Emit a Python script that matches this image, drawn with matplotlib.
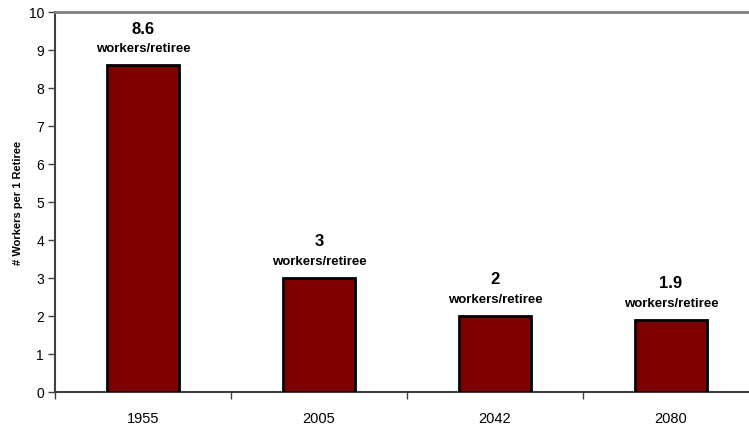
import numpy as np
import matplotlib.pyplot as plt

years = ["1955", "2005", "2042", "2080"]
ratio = [8.6, 3, 2, 1.9]
labels = ["8.6", "3", "2", "1.9"]

plt.rcParams['font.family'] = ['Liberation Sans', 'DejaVu Sans']

fig = plt.figure(figsize=(7.49, 4.27), dpi=100)
ax = fig.add_axes([55/749, 34/427, 704/749, 380/427])

x = np.arange(len(years))
ax.bar(x, ratio, width=0.405, color="#800000", edgecolor="black", linewidth=2, zorder=3)

for xi, v, lab in zip(x, ratio, labels):
    ax.annotate(lab, (xi, v), xytext=(0, 37), textcoords="offset pixels",
                ha="center", va="center", fontsize=12, fontweight="bold")
    ax.annotate("workers/retiree", (xi, v), xytext=(0, 17), textcoords="offset pixels",
                ha="center", va="center", fontsize=9.5, fontweight="bold")

ax.set_xlim(-0.5, 3.5)
ax.set_ylim(0, 10)
ax.set_yticks(range(11))
ax.set_xticks(x)
ax.set_xticklabels(years, fontsize=10.5)
ax.set_xticks(np.arange(-0.5, 4, 1), minor=True)
ax.tick_params(axis="x", which="major", length=0, pad=14)
ax.tick_params(axis="x", which="minor", length=5, width=1, color="#404040", direction="out")
ax.tick_params(axis="y", length=5, width=1, color="#404040", labelsize=10, pad=3)

ax.set_ylabel("# Workers per 1 Retiree", fontsize=8, fontweight="bold", labelpad=4)

ax.spines["left"].set_color("#404040")
ax.spines["bottom"].set_color("#404040")
ax.spines["left"].set_linewidth(1.5)
ax.spines["bottom"].set_linewidth(1.5)
ax.spines["top"].set_color("#808080")
ax.spines["top"].set_linewidth(2)
ax.spines["right"].set_visible(False)

fig.savefig("out.png", dpi=100)
